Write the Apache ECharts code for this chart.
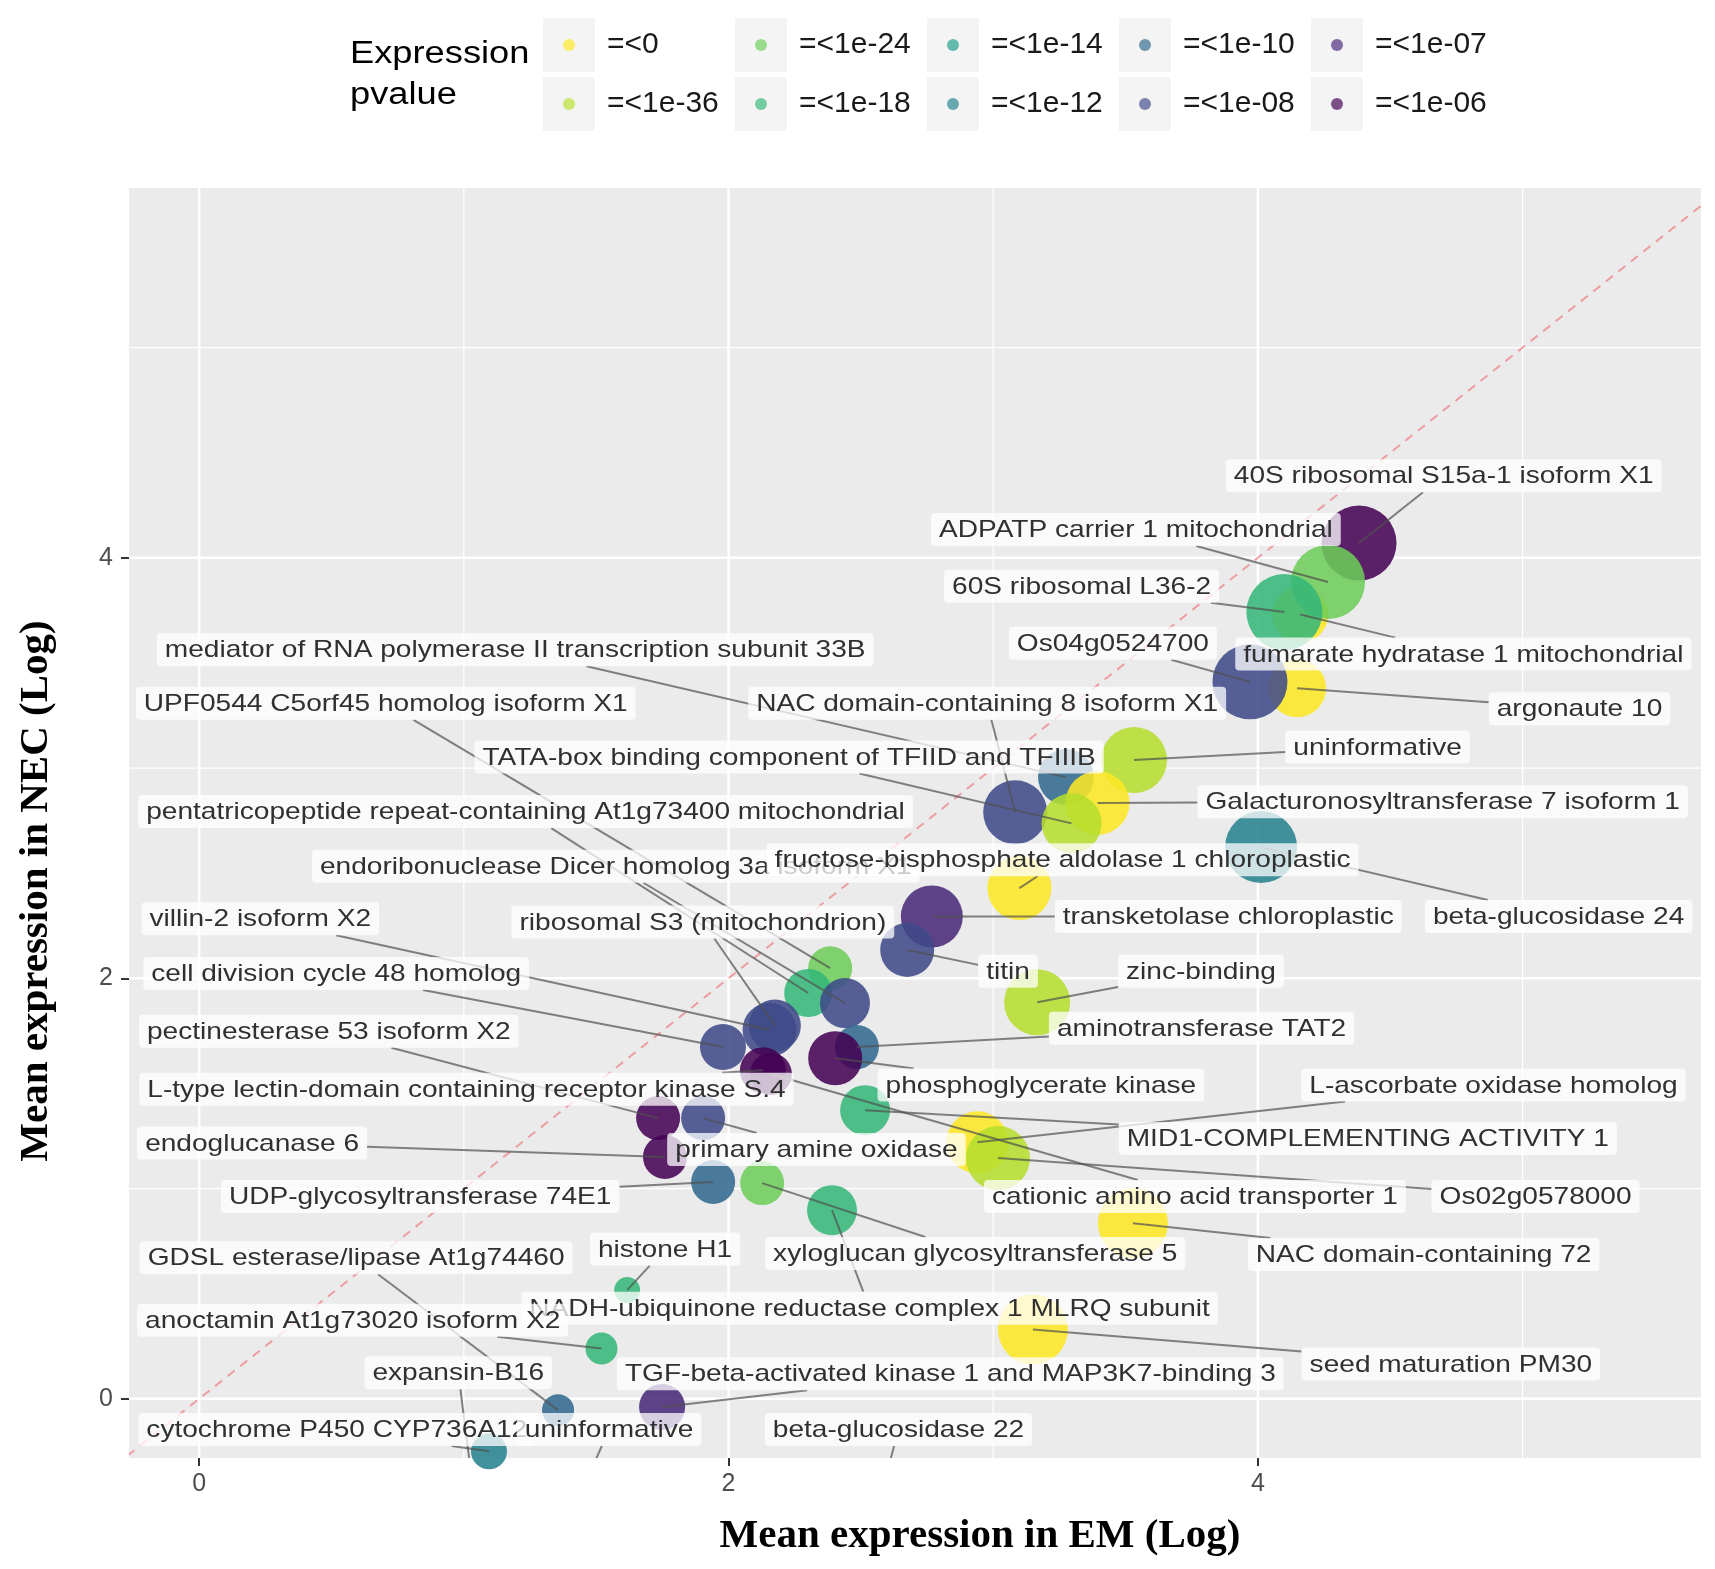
<!DOCTYPE html>
<html>
<head>
<meta charset="utf-8">
<title>Mean expression EM vs NEC</title>
<script src="https://cdn.jsdelivr.net/npm/echarts@6/dist/echarts.min.js"></script>
<style>
    html, body { margin: 0; padding: 0; background: #fff; }
    #chart { width: 1715px; height: 1569px; }
</style>
</head>
<body>
<div id="chart"></div>
<script>
// p-value classes, in legend order
const pClasses = ['=<0', '=<1e-36', '=<1e-24', '=<1e-18', '=<1e-14', '=<1e-12', '=<1e-10', '=<1e-08', '=<1e-07', '=<1e-06'];
const pColors = ['#FDE725', '#B4DE2C', '#6DCD59', '#35B779', '#1F9E89', '#26828E', '#31688E', '#3E4A89', '#482878', '#440154'];

// genes (draw order = array order)
const genes = [
    'fumarate hydratase 1 mitochondrial',
    '40S ribosomal S15a-1 isoform X1',
    'ADPATP carrier 1 mitochondrial',
    '60S ribosomal L36-2',
    'argonaute 10',
    'Os04g0524700',
    'mediator of RNA polymerase II transcription subunit 33B',
    'NAC domain-containing 8 isoform X1',
    'uninformative',
    'Galacturonosyltransferase 7 isoform 1',
    'TATA-box binding component of TFIID and TFIIIB',
    'beta-glucosidase 24',
    'transketolase chloroplastic',
    'titin',
    'zinc-binding',
    'UPF0544 C5orf45 homolog isoform X1',
    'pentatricopeptide repeat-containing At1g73400 mitochondrial',
    'endoribonuclease Dicer homolog 3a isoform X1',
    'fructose-bisphosphate aldolase 1 chloroplastic',
    'villin-2 isoform X2',
    'ribosomal S3 (mitochondrion)',
    'cell division cycle 48 homolog',
    'aminotransferase TAT2',
    'phosphoglycerate kinase',
    'cationic amino acid transporter 1',
    'L-type lectin-domain containing receptor kinase S.4',
    'MID1-COMPLEMENTING ACTIVITY 1',
    'pectinesterase 53 isoform X2',
    'primary amine oxidase',
    'endoglucanase 6',
    'UDP-glycosyltransferase 74E1',
    'xyloglucan glycosyltransferase 5',
    'NADH-ubiquinone reductase complex 1 MLRQ subunit',
    'histone H1',
    'L-ascorbate oxidase homolog',
    'Os02g0578000',
    'NAC domain-containing 72',
    'seed maturation PM30',
    'anoctamin At1g73020 isoform X2',
    'GDSL esterase/lipase At1g74460',
    'TGF-beta-activated kinase 1 and MAP3K7-binding 3',
    'cytochrome P450 CYP736A12',
    'expansin-B16',
    'uninformative',
    'beta-glucosidase 22'
];
// mean expression in EM (Log)
const emLog = [4.16, 4.382, 4.265, 4.10, 4.148, 3.97, 3.275, 3.083, 3.532, 3.394, 3.296, 4.012, 2.768, 2.675, 3.166,
    2.384, 2.301, 2.44, 3.099, 2.155, 2.175, 1.979, 2.485, 2.403, 2.16, 2.13, 2.516, 1.734, 1.904, 1.76, 1.942,
    2.127, 2.391, 1.617, 2.94, 3.018, 3.528, 3.15, 1.52, 1.356, 1.749, 1.095, 1.03, 1.47, 2.595];
// mean expression in NEC (Log)
const necLog = [3.73, 4.07, 3.885, 3.742, 3.38, 3.41, 2.957, 2.79, 3.038, 2.834, 2.737, 2.624, 2.294, 2.135, 1.886,
    2.048, 1.93, 1.882, 2.429, 1.755, 1.775, 1.673, 1.673, 1.62, 1.545, 1.563, 1.373, 1.335, 1.335, 1.15, 1.031,
    1.026, 0.897, 0.517, 1.22, 1.145, 0.835, 0.33, 0.239, -0.054, -0.039, -0.25, -0.38, -0.37, -0.37];
// index into pClasses
const pClass = [0, 9, 2, 3, 0, 7, 6, 7, 1, 0, 1, 5, 8, 7, 1,
    2, 3, 7, 0, 7, 7, 7, 6, 9, 9, 9, 3, 9, 7, 9, 6,
    2, 3, 3, 0, 1, 0, 0, 3, 6, 8, 5, 5, 6, 5];
// bubble size
const bubble = [5.6, 7.5, 7.4, 7.6, 5.8, 7.5, 5.6, 6.4, 6.6, 6.4, 6.0, 7.2, 6.2, 5.4, 6.6,
    4.4, 4.8, 5.0, 6.4, 5.4, 5.2, 4.6, 4.4, 5.4, 4.2, 4.6, 5.0, 4.4, 4.4, 4.4, 4.4,
    4.4, 5.0, 2.6, 6.2, 6.4, 7.0, 7.0, 3.2, 3.2, 4.6, 3.6, 3.0, 3.0, 3.0];
// label anchors (centre of each label, in axis units)
const labelEm = [4.776, 4.702, 3.539, 3.334, 5.215, 3.452, 1.194, 2.977, 4.452, 4.698, 2.229, 5.136, 3.888, 3.056, 3.785,
    0.705, 1.233, 1.574, 3.262, 0.231, 1.903, 0.518, 3.787, 3.180, 3.762, 1.010, 4.415, 0.490, 2.332, 0.200, 0.835,
    2.932, 2.533, 1.760, 4.890, 5.049, 4.626, 4.729, 0.580, 0.593, 2.838, 0.520, 0.979, 1.549, 2.642];
const labelNec = [3.542, 4.390, 4.135, 3.865, 3.282, 3.594, 3.563, 3.308, 3.100, 2.840, 3.053, 2.294, 2.294, 2.034, 2.034,
    3.308, 2.793, 2.533, 2.564, 2.283, 2.268, 2.023, 1.763, 1.493, 0.962, 1.472, 1.238, 1.748, 1.186, 1.217, 0.962,
    0.691, 0.431, 0.712, 1.493, 0.962, 0.686, 0.166, 0.374, 0.671, 0.119, -0.146, 0.124, -0.146, -0.146];

// axes
const xRange = [-0.265, 5.674];
const yRange = [-0.2816, 5.759];
const xTicks = [0, 2, 4];
const yTicks = [0, 2, 4];
const xGridMinor = [1, 3, 5];
const yGridMinor = [1, 3, 5];

const SANS = '"Liberation Sans", Arial, sans-serif';
const LABEL_FONT = 24;
const LABEL_SX = 1.17;   // the labels are set wide
const LABEL_H = 33;
const measureCtx = document.createElement('canvas').getContext('2d');
measureCtx.font = LABEL_FONT + 'px ' + SANS;

function labelBox(i, api) {
    const c = api.coord([labelEm[i], labelNec[i]]);
    const w = measureCtx.measureText(genes[i]).width * LABEL_SX + 16;
    return { cx: c[0], cy: c[1], w: w, h: LABEL_H };
}

// legend key: grey square with a dot
function keyIcon(color) {
    const svg = '<svg xmlns="http://www.w3.org/2000/svg" width="52" height="54" viewBox="0 0 52 54">' +
        '<rect width="52" height="54" fill="#F2F2F2"/>' +
        '<circle cx="26" cy="27" r="6" fill="' + color + '" fill-opacity="0.85"/></svg>';
    return 'image://data:image/svg+xml;charset=utf-8,' + encodeURIComponent(svg);
}

const gridItems = [].concat(
    xGridMinor.map(v => [0, v, 0]), yGridMinor.map(v => [1, v, 0]),
    xTicks.map(v => [0, v, 1]), yTicks.map(v => [1, v, 1])
);

// legend is filled by column, two rows
const legends = pClasses.map((n, k) => ({
    data: [{ name: n, icon: keyIcon(pColors[k]) }],
    left: 543 + Math.floor(k / 2) * 192,
    top: 18 + (k % 2) * 59,
    padding: 0,
    itemWidth: 52,
    itemHeight: 54,
    selectedMode: false,
    textStyle: {
        fontSize: 30,
        fontFamily: SANS,
        color: '#1a1a1a',
        padding: [0, 0, 0, 7]
    }
}));

const chart = echarts.init(document.getElementById('chart'));

const legendSeries = pClasses.map((n, k) => ({
    name: n,
    type: 'scatter',
    data: [],
    itemStyle: { color: pColors[k] }
}));

const option = {
    animation: false,
    backgroundColor: '#ffffff',
    graphic: [{
        type: 'text',
        x: 350,
        y: 34,
        scaleX: 1.17,
        style: {
            text: 'Expression\npvalue',
            fontSize: 31,
            lineHeight: 41,
            fontFamily: SANS,
            fill: '#000',
            align: 'left',
            verticalAlign: 'top'
        }
    }],
    legend: legends,
    grid: {
        left: 129,
        top: 188,
        width: 1572,
        height: 1270,
        show: true,
        backgroundColor: '#EBEBEB',
        borderWidth: 0,
        outerBoundsMode: 'none'
    },
    xAxis: {
        type: 'value',
        min: xRange[0],
        max: xRange[1],
        axisLine: { show: false, onZero: false },
        axisTick: { show: true, length: 8, customValues: xTicks, lineStyle: { color: '#333', width: 2 } },
        axisLabel: { customValues: xTicks, fontSize: 25, color: '#4D4D4D', margin: 14, fontFamily: SANS },
        splitLine: { show: false },
        name: 'Mean expression in EM (Log)',
        nameLocation: 'middle',
        nameGap: 58,
        nameTextStyle: {
            fontFamily: '"Liberation Serif", "Times New Roman", serif',
            fontWeight: 'bold',
            fontSize: 41,
            color: '#000',
            padding: [0, 0, 0, 130]
        }
    },
    yAxis: {
        type: 'value',
        min: yRange[0],
        max: yRange[1],
        axisLine: { show: false, onZero: false },
        axisTick: { show: true, length: 8, customValues: yTicks, lineStyle: { color: '#333', width: 2 } },
        axisLabel: { customValues: yTicks, fontSize: 25, color: '#4D4D4D', margin: 16, fontFamily: SANS },
        splitLine: { show: false },
        name: 'Mean expression in NEC (Log)',
        nameLocation: 'middle',
        nameGap: 72,
        nameTextStyle: {
            fontFamily: '"Liberation Serif", "Times New Roman", serif',
            fontWeight: 'bold',
            fontSize: 41,
            color: '#000',
            padding: [0, 136, 0, 0]
        }
    },
    series: [
        {
            // panel grid lines
            type: 'custom',
            z: 1,
            silent: true,
            clip: true,
            data: gridItems.map(g => [g[1], g[1]]),
            renderItem: function (params, api) {
                const g = gridItems[params.dataIndex];
                let p1, p2;
                if (g[0] === 0) {
                    p1 = api.coord([g[1], yRange[0]]);
                    p2 = api.coord([g[1], yRange[1]]);
                } else {
                    p1 = api.coord([xRange[0], g[1]]);
                    p2 = api.coord([xRange[1], g[1]]);
                }
                return {
                    type: 'line',
                    shape: { x1: p1[0], y1: p1[1], x2: p2[0], y2: p2[1] },
                    style: { stroke: '#ffffff', lineWidth: g[2] ? 2.4 : 1.2 }
                };
            }
        },
        {
            // y = x reference line
            type: 'custom',
            z: 2,
            silent: true,
            clip: true,
            data: [[0, 0]],
            renderItem: function (params, api) {
                const p1 = api.coord([xRange[0] - 1, xRange[0] - 1]);
                const p2 = api.coord([xRange[1] + 1, xRange[1] + 1]);
                return {
                    type: 'line',
                    shape: { x1: p1[0], y1: p1[1], x2: p2[0], y2: p2[1] },
                    style: { stroke: 'rgba(240, 80, 90, 0.5)', lineWidth: 2, lineDash: [9, 7] }
                };
            }
        },
        {
            type: 'scatter',
            z: 3,
            silent: true,
            clip: true,
            data: genes.map((g, i) => ({
                name: g,
                value: [emLog[i], necLog[i]],
                itemStyle: { color: pColors[pClass[i]] }
            })),
            symbolSize: function (val, params) {
                return bubble[params.dataIndex] * 10;
            },
            itemStyle: { opacity: 0.87 }
        },
        {
            // segments from points to labels
            type: 'custom',
            z: 4,
            silent: true,
            clip: true,
            data: genes.map((g, i) => [emLog[i], necLog[i]]),
            renderItem: function (params, api) {
                const i = params.dataIndex;
                const p = api.coord([emLog[i], necLog[i]]);
                const b = labelBox(i, api);
                const dx = p[0] - b.cx;
                const dy = p[1] - b.cy;
                const t = Math.min(dx ? (b.w / 2) / Math.abs(dx) : Infinity, dy ? (b.h / 2) / Math.abs(dy) : Infinity);
                if (t >= 1) {
                    return { type: 'group', children: [] };
                }
                return {
                    type: 'line',
                    shape: { x1: p[0], y1: p[1], x2: b.cx + dx * t, y2: b.cy + dy * t },
                    style: { stroke: 'rgba(80, 80, 80, 0.7)', lineWidth: 2 }
                };
            }
        },
        {
            // gene labels
            type: 'custom',
            z: 5,
            silent: true,
            clip: false,
            data: genes.map((g, i) => [labelEm[i], labelNec[i]]),
            renderItem: function (params, api) {
                const i = params.dataIndex;
                const b = labelBox(i, api);
                return {
                    type: 'group',
                    children: [{
                        type: 'rect',
                        shape: { x: b.cx - b.w / 2, y: b.cy - b.h / 2, width: b.w, height: b.h, r: 4 },
                        style: { fill: 'rgba(255, 255, 255, 0.75)' }
                    }, {
                        type: 'text',
                        x: b.cx,
                        y: b.cy + 1,
                        scaleX: LABEL_SX,
                        style: {
                            text: genes[i],
                            x: 0,
                            y: 0,
                            align: 'center',
                            verticalAlign: 'middle',
                            fontSize: LABEL_FONT,
                            fontFamily: SANS,
                            fill: '#303030'
                        }
                    }]
                };
            }
        }
    ].concat(legendSeries)
};

chart.setOption(option);
</script>
</body>
</html>
